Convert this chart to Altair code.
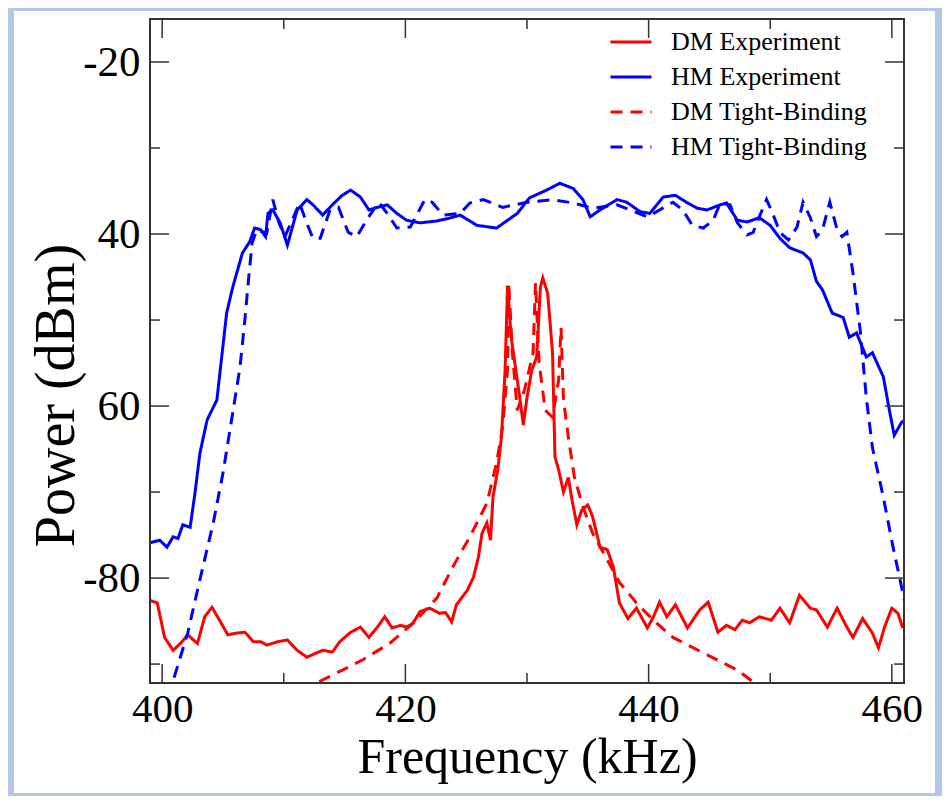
import altair as alt
import pandas as pd

# ---------------- data ----------------
SERIES = ["DM Experiment", "HM Experiment", "DM Tight-Binding", "HM Tight-Binding"]

HM_EXP_F = [399.0, 399.8, 400.4, 400.9, 401.3, 401.7, 402.3, 402.7, 403.1, 403.7,
            404.5, 404.8, 405.3, 405.8, 406.6, 407.2, 407.6, 408.1, 408.5, 408.7,
            409.1, 409.7, 410.3, 411.1, 411.9, 412.4, 413.2, 414.0, 414.8, 415.5,
            416.3, 417.0, 417.7, 418.5, 419.3, 420.1, 421.2, 422.5, 423.5, 424.5,
            425.9, 427.5, 429.2, 430.2, 431.6, 432.7, 433.8, 434.6, 435.2, 436.0,
            437.4, 438.2, 439.3, 440.1, 441.2, 442.2, 443.1, 444.0, 444.8, 445.9,
            446.4, 447.3, 448.1, 449.1, 450.0, 450.8, 451.6, 452.7, 453.3, 453.8,
            454.3, 455.1, 456.0, 456.5, 457.1, 457.9, 458.4, 459.3, 459.8, 460.2,
            460.8, 461.0]
HM_EXP_P = [-75.9, -75.6, -76.4, -75.2, -75.4, -73.8, -74.1, -70.1, -65.5, -61.6,
            -59.3, -55.5, -49.2, -46.2, -42.2, -40.9, -39.3, -39.5, -40.3, -37.6,
            -37.2, -38.7, -41.3, -37.2, -36.0, -36.6, -37.8, -36.6, -35.5, -34.9,
            -35.7, -37.2, -36.9, -36.6, -37.6, -38.4, -38.7, -38.5, -38.2, -37.8,
            -39.0, -39.3, -37.6, -35.8, -34.9, -34.1, -34.7, -36.0, -38.0, -37.2,
            -36.0, -36.3, -37.4, -37.6, -35.7, -35.5, -36.3, -37.0, -37.2, -36.6,
            -36.4, -38.4, -38.6, -38.1, -39.0, -40.5, -41.6, -42.2, -43.0, -45.5,
            -46.5, -49.2, -49.7, -52.0, -51.5, -54.3, -53.8, -56.6, -60.5, -63.4,
            -61.9, -61.7]

HM_TB_F = [400.5, 402.1, 403.1, 404.2, 405.0, 405.8, 406.4, 406.8, 407.1, 407.4,
           407.8, 408.6, 409.1, 409.6, 410.1, 411.3, 411.8, 412.4, 413.0, 413.8,
           414.5, 415.3, 416.0, 416.8, 417.8, 418.5, 419.3, 420.4, 421.0, 421.6,
           422.2, 423.1, 424.5, 425.3, 426.4, 428.0, 430.0, 432.1, 433.8, 435.4,
           437.4, 439.9, 440.9, 442.0, 442.8, 443.6, 444.5, 445.3, 445.9, 446.7,
           447.3, 448.1, 448.6, 449.1, 449.7, 450.2, 450.8, 451.5, 452.2, 452.7,
           453.3, 453.8, 454.3, 454.9, 455.5, 455.9, 456.3, 456.8, 457.4, 457.9,
           458.4, 459.3, 460.1, 460.9, 461.3]
HM_TB_P = [-93.8, -86.4, -80.2, -73.6, -67.8, -60.8, -55.5, -50.0, -45.3, -41.0,
           -39.5, -39.9, -36.0, -38.7, -40.3, -36.4, -38.4, -40.5, -40.5, -37.2,
           -36.9, -39.8, -40.3, -38.4, -36.3, -37.6, -39.3, -39.2, -37.6, -36.0,
           -36.3, -37.8, -37.6, -36.4, -36.0, -36.9, -36.3, -36.0, -36.4, -37.0,
           -36.6, -38.0, -37.2, -36.3, -37.2, -39.0, -39.3, -38.4, -36.4, -36.6,
           -38.7, -40.1, -39.8, -38.0, -36.0, -37.6, -39.8, -40.7, -39.2, -36.3,
           -38.1, -40.3, -39.5, -36.3, -39.5, -40.3, -39.8, -44.5, -51.2, -59.0,
           -64.8, -70.6, -76.4, -81.7, -84.5]

DM_EXP_F = [399.0, 399.6, 400.2, 400.9, 401.5, 402.1, 402.9, 403.5, 404.1, 404.8,
            405.4, 406.1, 406.8, 407.5, 408.1, 408.6, 409.5, 410.3, 411.1, 411.9,
            412.7, 413.2, 414.0, 414.6, 415.5, 416.3, 417.0, 417.7, 418.3, 418.9,
            419.6, 420.1, 420.6, 421.2, 422.0, 422.8, 423.3, 423.8, 424.2, 425.1,
            425.6, 426.0, 426.3, 426.7, 427.0, 427.2, 427.6, 427.9, 428.2, 428.4,
            428.7, 429.0, 429.4, 429.7, 430.0, 430.4, 430.8, 431.1, 431.3, 431.7,
            432.1, 432.3, 432.6, 433.0, 433.4, 433.7, 434.1, 434.5, 435.0, 435.4,
            436.0, 436.6, 437.1, 437.6, 438.3, 439.0, 439.9, 440.4, 440.9, 441.5,
            442.2, 443.2, 444.2, 444.9, 445.7, 446.4, 447.1, 447.7, 448.3, 449.1,
            450.1, 450.8, 451.6, 452.4, 453.3, 453.8, 454.7, 455.5, 456.3, 456.8,
            457.6, 458.4, 458.9, 459.4, 460.0, 460.5, 460.9]
DM_EXP_P = [-82.6, -82.9, -86.9, -88.4, -87.6, -86.6, -87.6, -84.5, -83.4, -85.1,
            -86.6, -86.4, -86.3, -87.4, -87.4, -87.8, -87.4, -87.2, -88.4, -89.2,
            -88.7, -88.4, -88.6, -87.4, -86.3, -85.7, -86.9, -85.7, -84.5, -85.8,
            -85.5, -85.7, -85.3, -83.9, -83.5, -84.1, -84.0, -85.1, -83.1, -81.4,
            -79.9, -77.6, -74.8, -73.6, -75.6, -70.6, -67.4, -63.6, -55.8, -46.0,
            -52.0, -55.0, -59.0, -62.2, -59.0, -55.8, -54.3, -46.2, -45.1, -46.9,
            -53.8, -65.9, -67.4, -70.0, -68.3, -70.9, -73.8, -72.1, -71.5, -72.9,
            -76.4, -76.7, -78.7, -82.9, -84.7, -83.5, -85.8, -84.5, -82.8, -84.5,
            -83.1, -85.8, -83.7, -82.8, -86.3, -85.5, -86.0, -84.9, -85.2, -84.5,
            -84.9, -83.5, -85.2, -82.0, -83.5, -83.7, -85.7, -83.5, -85.7, -86.9,
            -84.7, -86.4, -88.1, -85.7, -83.5, -84.1, -85.8]

DM_TB_F = [411.5, 412.4, 414.4, 416.5, 418.7, 420.6, 422.6, 423.9, 425.3, 426.7,
           427.5, 428.0, 428.4, 428.5, 428.8, 429.2, 429.8, 430.5, 430.7, 431.0,
           431.5, 432.1, 432.6, 432.8, 433.0, 433.4, 433.9, 434.6, 435.4, 436.6,
           437.6, 439.0, 440.4, 442.0, 444.5, 447.3, 448.7, 449.5]
DM_TB_P = [-93.2, -92.4, -91.0, -89.5, -87.6, -85.3, -82.3, -78.7, -75.2, -71.3,
           -66.6, -62.4, -55.8, -45.7, -53.8, -60.5, -58.1, -53.8, -45.7, -55.0,
           -60.5, -61.3, -57.0, -50.9, -59.3, -63.6, -68.3, -71.7, -74.8, -77.9,
           -80.5, -82.9, -84.9, -86.9, -88.7, -90.7, -92.2, -93.2]

X_MAJOR = [400, 420, 440, 460]
X_MINOR = [410, 430, 450]
Y_MAJOR = [-20, -40, -60, -80]
Y_MINOR = [-30, -50, -70, -90]

# ---------------- table ----------------
rows = []
for name, fs, ps in [(SERIES[0], DM_EXP_F, DM_EXP_P), (SERIES[1], HM_EXP_F, HM_EXP_P),
                     (SERIES[2], DM_TB_F, DM_TB_P), (SERIES[3], HM_TB_F, HM_TB_P)]:
    for i, (f, p) in enumerate(zip(fs, ps)):
        rows.append({"series": name, "freq": f, "power": p, "order": i})
df = pd.DataFrame(rows)

# ---------------- layout / style ----------------
W, H = 754, 664
FONT = "Liberation Serif"
TICK = "#333333"

xs = alt.Scale(domain=[399, 461], nice=False, zero=False)
ys = alt.Scale(domain=[-92.2, -15], nice=False, zero=False)

XAX = alt.Axis(values=X_MAJOR, ticks=False, domain=False, grid=False,
               labelFont=FONT, labelFontSize=41, labelColor="black", labelPadding=6,
               labelFlush=False, format="d",
               title="Frequency (kHz)", titleFont=FONT, titleFontSize=50,
               titleFontWeight="normal", titleColor="black", titleY=89,
               titleBaseline="alphabetic", zindex=1)
YAX = alt.Axis(values=Y_MAJOR, ticks=False, domain=False, grid=False,
               labelFont=FONT, labelFontSize=43, labelColor="black", labelPadding=10,
               labelFlush=False,
               labelExpr="datum.value == -40 ? '40' : datum.value == -60 ? '60' : '-' + format(-datum.value, 'd')",
               title="Power (dBm)", titleFont=FONT, titleFontSize=56,
               titleFontWeight="normal", titleColor="black", titleAngle=270,
               titleX=-77, titleY=376, titleAlign="center", titleBaseline="alphabetic",
               zindex=1)

LEG = dict(title=None, orient="none", legendX=459, legendY=1,
           symbolType="stroke", symbolSize=1681, symbolStrokeWidth=3,
           labelFont=FONT, labelFontSize=26, labelColor="black", labelLimit=0,
           labelOffset=18, rowPadding=-4, padding=0, zindex=1)

one = pd.DataFrame({"k": [0]})

panel = alt.Chart(one).mark_rect(color="white").encode(
    x=alt.value(-136), x2=alt.value(W + 31), y=alt.value(-8), y2=alt.value(H + 110))

lines = alt.Chart(df).mark_line(strokeWidth=3, clip=True).encode(
    x=alt.X("freq:Q", scale=xs, axis=XAX),
    y=alt.Y("power:Q", scale=ys, axis=YAX),
    color=alt.Color("series:N",
                    scale=alt.Scale(domain=SERIES, range=["#ff0000", "#0000ff", "#ff0000", "#0000ff"]),
                    legend=alt.Legend(**LEG)),
    strokeDash=alt.StrokeDash("series:N",
                              scale=alt.Scale(domain=SERIES, range=[[1, 0], [1, 0], [12, 8], [12, 8]]),
                              legend=alt.Legend(**LEG)),
    detail="series:N",
    order="order:Q",
)


def xticks(vals, length, bottom):
    d = pd.DataFrame({"freq": vals})
    y0 = H if bottom else 0
    y1 = H - length if bottom else length
    return alt.Chart(d).mark_rule(color=TICK, strokeWidth=1.5).encode(
        x=alt.X("freq:Q", scale=xs, axis=XAX), y=alt.value(y0), y2=alt.value(y1))


def yticks(vals, length, left):
    d = pd.DataFrame({"power": vals})
    x0 = 0 if left else W
    x1 = length if left else W - length
    return alt.Chart(d).mark_rule(color=TICK, strokeWidth=1.5).encode(
        y=alt.Y("power:Q", scale=ys, axis=YAX), x=alt.value(x0), x2=alt.value(x1))


frame = alt.Chart(one).mark_rect(fill="white", fillOpacity=0, stroke=TICK, strokeWidth=2).encode(
    x=alt.value(0), x2=alt.value(W), y=alt.value(0), y2=alt.value(H))

chart = alt.layer(
    panel, lines,
    xticks(X_MAJOR, 19, True), xticks(X_MINOR, 10, True),
    xticks(X_MAJOR, 19, False), xticks(X_MINOR, 10, False),
    yticks(Y_MAJOR, 19, True), yticks(Y_MINOR, 10, True),
    yticks(Y_MAJOR, 19, False), yticks(Y_MINOR, 10, False),
    frame,
).properties(
    width=W, height=H,
    padding={"left": 142, "top": 11, "right": 38, "bottom": 113},
    autosize=alt.AutoSizeParams(type="none"),
    background="#b4c7e7",
).configure_view(strokeWidth=0)

chart.save("out.html", embed_options={"renderer": "svg", "actions": False})
